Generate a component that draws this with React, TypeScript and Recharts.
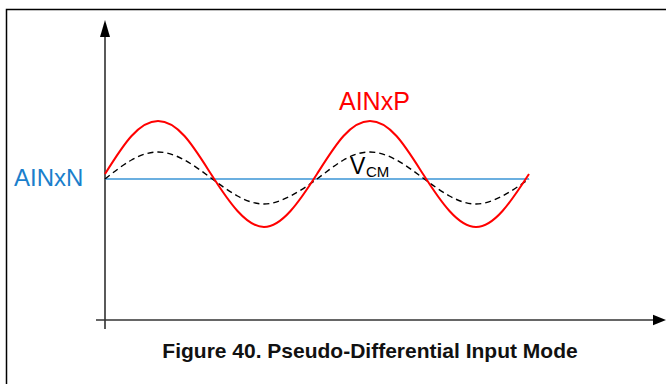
import React from 'react';
import { LineChart, Line, XAxis, YAxis, ReferenceLine, ReferenceDot } from 'recharts';

// time in quarter-period steps sampled every 1/8 period (two full periods)
const time = [0, 0.5, 1, 1.5, 2, 2.5, 3, 3.5, 4, 4.5, 5, 5.5, 6, 6.5, 7, 7.5, 8];
// AINxP (red), V_CM (dashed) and AINxN (blue) levels relative to AINxN
const ainP = [5, 43, 58, 43, 5, -32, -48, -32, 5, 43, 58, 43, 5, -32, -48, -32, 5];
const vcm = [0, 19, 27, 19, 1, -17, -25, -17, 0, 19, 27, 19, 1, -17, -25, -17, 0];
const ainN = [0, 0, 0, 0, 0, 0, 0, 0, 0, 0, 0, 0, 0, 0, 0, 0, 0];

const data = time.map((t, i) => ({ t, ainP: ainP[i], vcm: vcm[i], ainN: ainN[i] }));

const FONT = '"Liberation Sans", Arial, sans-serif';

// axis geometry in data units
const X_AXIS_LEVEL = -141;
const X_AXIS_START = -0.17;
const X_AXIS_END = 10.34;
const X_ARROW_TIP = 10.585;
const Y_AXIS_TOP = 142;
const Y_ARROW_TIP = 159;
const Y_AXIS_BOTTOM = -150;

const UpArrow = (props: any) => {
  const { cx, cy } = props;
  return <polygon points={`${cx},${cy} ${cx - 5},${cy + 17} ${cx + 5},${cy + 17}`} fill="#000" />;
};

const RightArrow = (props: any) => {
  const { cx, cy } = props;
  return <polygon points={`${cx},${cy} ${cx - 13},${cy - 5.3} ${cx - 13},${cy + 5.3}`} fill="#000" />;
};

export default function App() {
  return (
    <div style={{ position: 'absolute', left: 0, top: 0, width: 666, height: 384, background: '#fff', overflow: 'hidden' }}>
      <LineChart
        width={666}
        height={384}
        data={data}
        margin={{ top: 29, right: 137, bottom: 55, left: 105 }}
      >
        <XAxis type="number" dataKey="t" domain={[0, 8]} hide />
        <YAxis type="number" domain={[-150, 150]} hide />
        <ReferenceLine
          segment={[{ x: 0, y: Y_AXIS_BOTTOM }, { x: 0, y: Y_AXIS_TOP }]}
          stroke="#000"
          strokeWidth={1.3}
          ifOverflow="visible"
        />
        <ReferenceLine
          segment={[{ x: X_AXIS_START, y: X_AXIS_LEVEL }, { x: X_AXIS_END, y: X_AXIS_LEVEL }]}
          stroke="#333"
          strokeWidth={1.3}
          ifOverflow="visible"
        />
        <ReferenceDot x={0} y={Y_ARROW_TIP} ifOverflow="visible" shape={UpArrow} />
        <ReferenceDot x={X_ARROW_TIP} y={X_AXIS_LEVEL} ifOverflow="visible" shape={RightArrow} />
        <Line
          type="linear"
          dataKey="ainN"
          stroke="#3a94d6"
          strokeWidth={1.5}
          dot={false}
          isAnimationActive={false}
        />
        <Line
          type="natural"
          dataKey="vcm"
          stroke="#000"
          strokeWidth={1.4}
          strokeDasharray="6 4"
          dot={false}
          isAnimationActive={false}
        />
        <Line
          type="natural"
          dataKey="ainP"
          stroke="#ff0000"
          strokeWidth={2}
          dot={false}
          isAnimationActive={false}
        />
      </LineChart>
      <svg width={666} height={384} style={{ position: 'absolute', left: 0, top: 0, pointerEvents: 'none' }}>
        <path d="M6.5,384 L6.5,9.5 L666,9.5" fill="none" stroke="#000" strokeWidth={1.5} />
        <text x={339} y={110} fontFamily={FONT} fontSize={25} fill="#ff0000">AINxP</text>
        <text x={14} y={186} fontFamily={FONT} fontSize={24} fill="#1b7fcc">AINxN</text>
        <text x={350} y={174} fontFamily={FONT} fontSize={23} fill="#000">V</text>
        <text x={366} y={177} fontFamily={FONT} fontSize={15} fill="#000">CM</text>
        <text x={370} y={358} fontFamily={FONT} fontSize={21} fontWeight="bold" textAnchor="middle" fill="#111">
          Figure 40. Pseudo-Differential Input Mode
        </text>
      </svg>
    </div>
  );
}
